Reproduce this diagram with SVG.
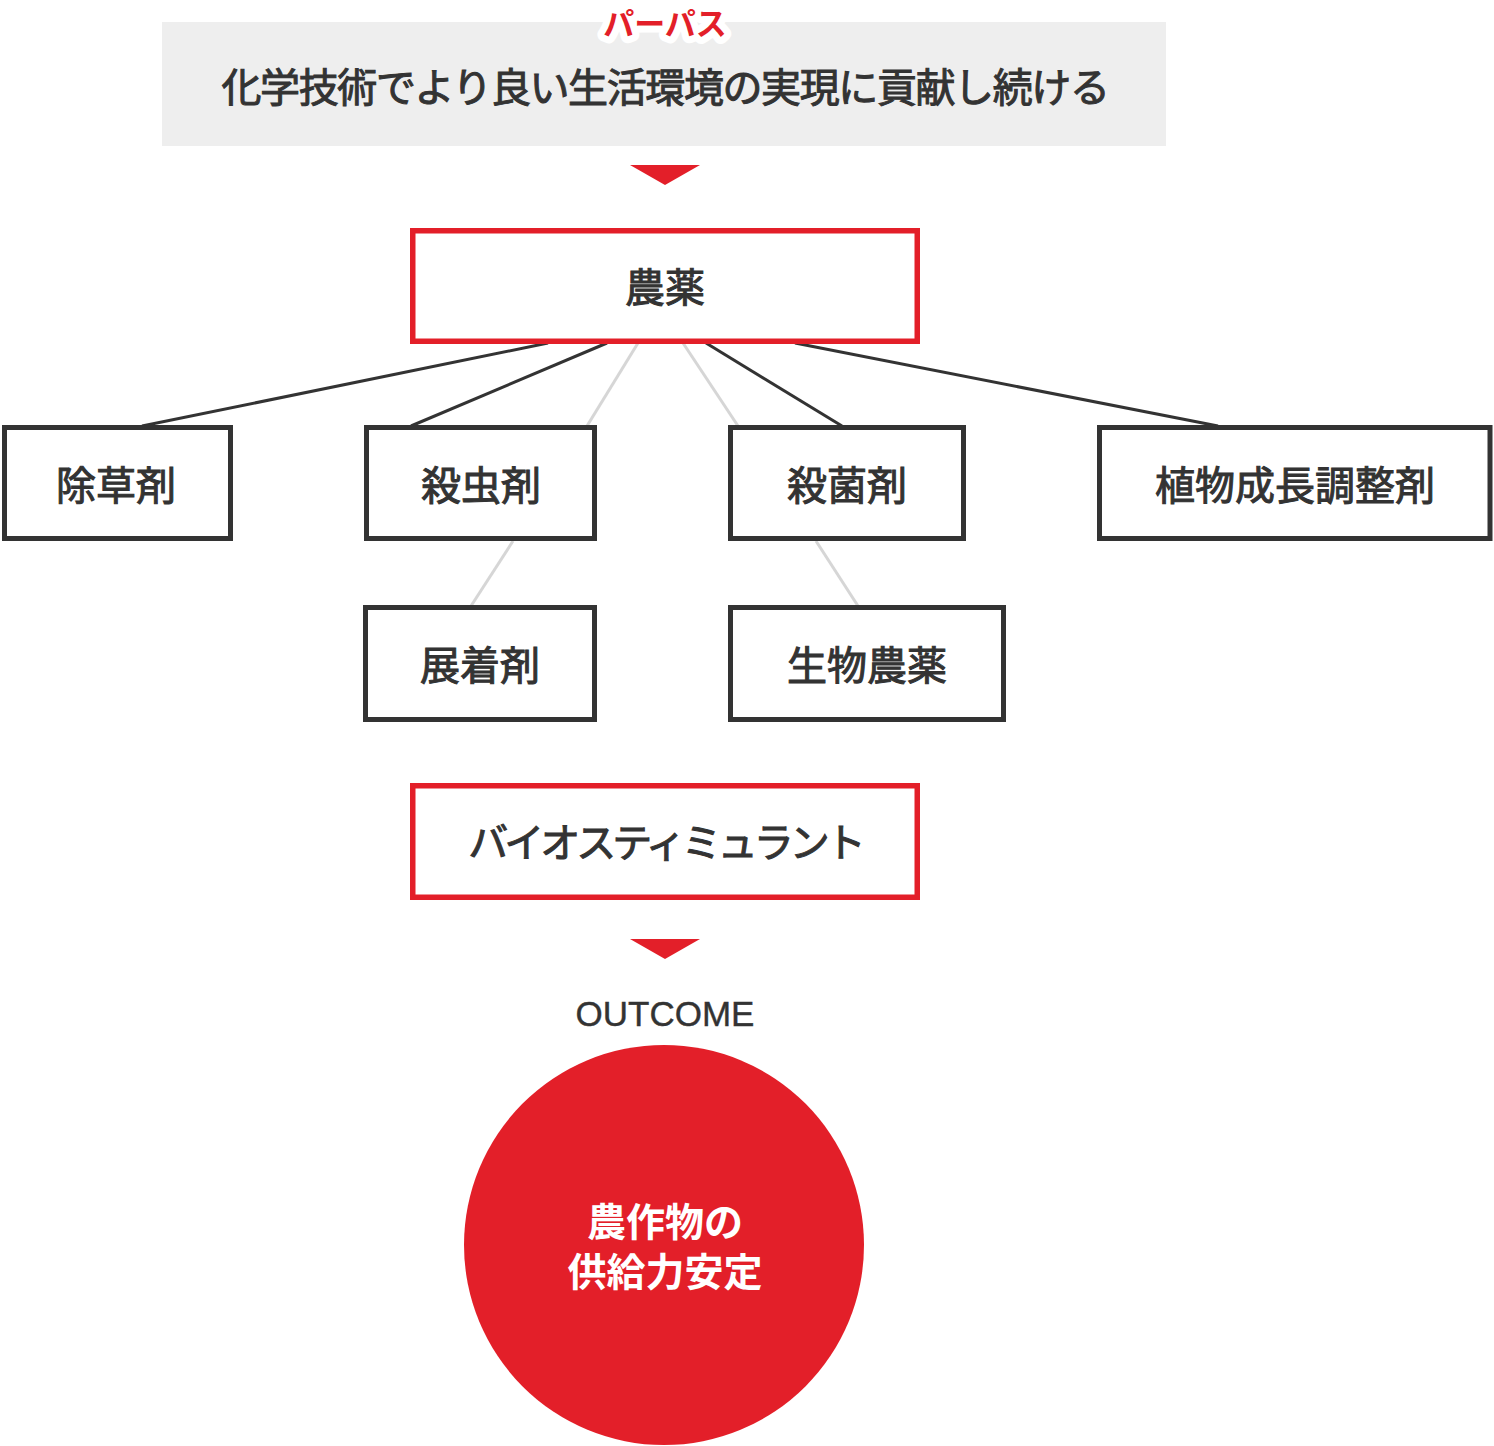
<svg xmlns="http://www.w3.org/2000/svg" width="1494" height="1446" viewBox="0 0 1494 1446">
<style>
.jp{font-family:"Noto Sans CJK JP","Noto Sans CJK SC",sans-serif;}
.lbl{font-size:40px;font-weight:400;fill:#333;stroke:#333;stroke-width:1;text-anchor:middle;dominant-baseline:central;}
.box{fill:#fff;stroke:#333;stroke-width:5;}
.rbox{fill:#fff;stroke:#e31f29;stroke-width:5.5;}
.dk{stroke:#333;stroke-width:3;fill:none;}
.gr{stroke:#d6d6d6;stroke-width:3;fill:none;}
.ct{font-size:39px;font-weight:700;fill:#fff;text-anchor:middle;dominant-baseline:central;}
</style>
<rect width="1494" height="1446" fill="#fff"/>
<g id="purpose">
<rect x="162" y="22" width="1004" height="124" fill="#eeeeee"/>
<text class="jp" x="665" y="21" font-size="31" font-weight="700" fill="#e31f29" text-anchor="middle" dominant-baseline="central" stroke="#fff" stroke-width="14" stroke-linejoin="round" paint-order="stroke">パーパス</text>
<text class="jp lbl" x="665" y="85" font-size="39" letter-spacing="-1.4">化学技術でより良い生活環境の実現に貢献し続ける</text>
</g>
<g id="arrow1"><polygon points="630,165 700,165 665,185" fill="#e31f29"/></g>
<g id="connectors">
<line class="dk" x1="548" y1="343" x2="142" y2="426"/>
<line class="dk" x1="607" y1="343" x2="411" y2="426"/>
<line class="gr" x1="638" y1="343" x2="587" y2="426"/>
<line class="gr" x1="683" y1="343" x2="738" y2="426"/>
<line class="dk" x1="706" y1="343" x2="842" y2="426" stroke-width="2"/>
<line class="dk" x1="795" y1="343" x2="1218" y2="426"/>
<line class="gr" x1="513" y1="541" x2="471" y2="606"/>
<line class="gr" x1="816" y1="541" x2="858" y2="606"/>
</g>
<g id="n-nouyaku">
<rect class="rbox" x="412.75" y="230.75" width="504.5" height="110.5"/>
<text class="jp lbl" x="665" y="285">農薬</text>
</g>
<g id="n-josouzai">
<rect class="box" x="4.5" y="427.5" width="226" height="111"/>
<text class="jp lbl" x="116" y="483">除草剤</text>
</g>
<g id="n-sacchuzai">
<rect class="box" x="366.5" y="427.5" width="228" height="111"/>
<text class="jp lbl" x="481" y="483">殺虫剤</text>
</g>
<g id="n-sakkinzai">
<rect class="box" x="730.5" y="427.5" width="233" height="111"/>
<text class="jp lbl" x="847" y="483">殺菌剤</text>
</g>
<g id="n-shokubutsu">
<rect class="box" x="1099.5" y="427.5" width="390.5" height="111"/>
<text class="jp lbl" x="1295" y="483">植物成長調整剤</text>
</g>
<g id="n-tenchakuzai">
<rect class="box" x="365.5" y="607.5" width="229" height="112"/>
<text class="jp lbl" x="480" y="663">展着剤</text>
</g>
<g id="n-seibutsu">
<rect class="box" x="730.5" y="607.5" width="273" height="112"/>
<text class="jp lbl" x="867" y="663">生物農薬</text>
</g>
<g id="n-bio">
<rect class="rbox" x="412.75" y="785.75" width="504.5" height="111.5"/>
<text class="jp lbl" x="665" y="840" font-size="36" letter-spacing="-4">バイオスティミュラント</text>
</g>
<g id="arrow2"><polygon points="630,939 700,939 665,959" fill="#e31f29"/></g>
<g id="outcome">
<text x="665" y="1013" font-family="Liberation Sans, Arial, sans-serif" font-size="35" fill="#333" stroke="#333" stroke-width="0.4" text-anchor="middle" dominant-baseline="central">OUTCOME</text>
<circle cx="664" cy="1245" r="200" fill="#e31f29"/>
<text class="jp ct" x="665" y="1219">農作物の</text>
<text class="jp ct" x="665" y="1269">供給力安定</text>
</g>
</svg>
